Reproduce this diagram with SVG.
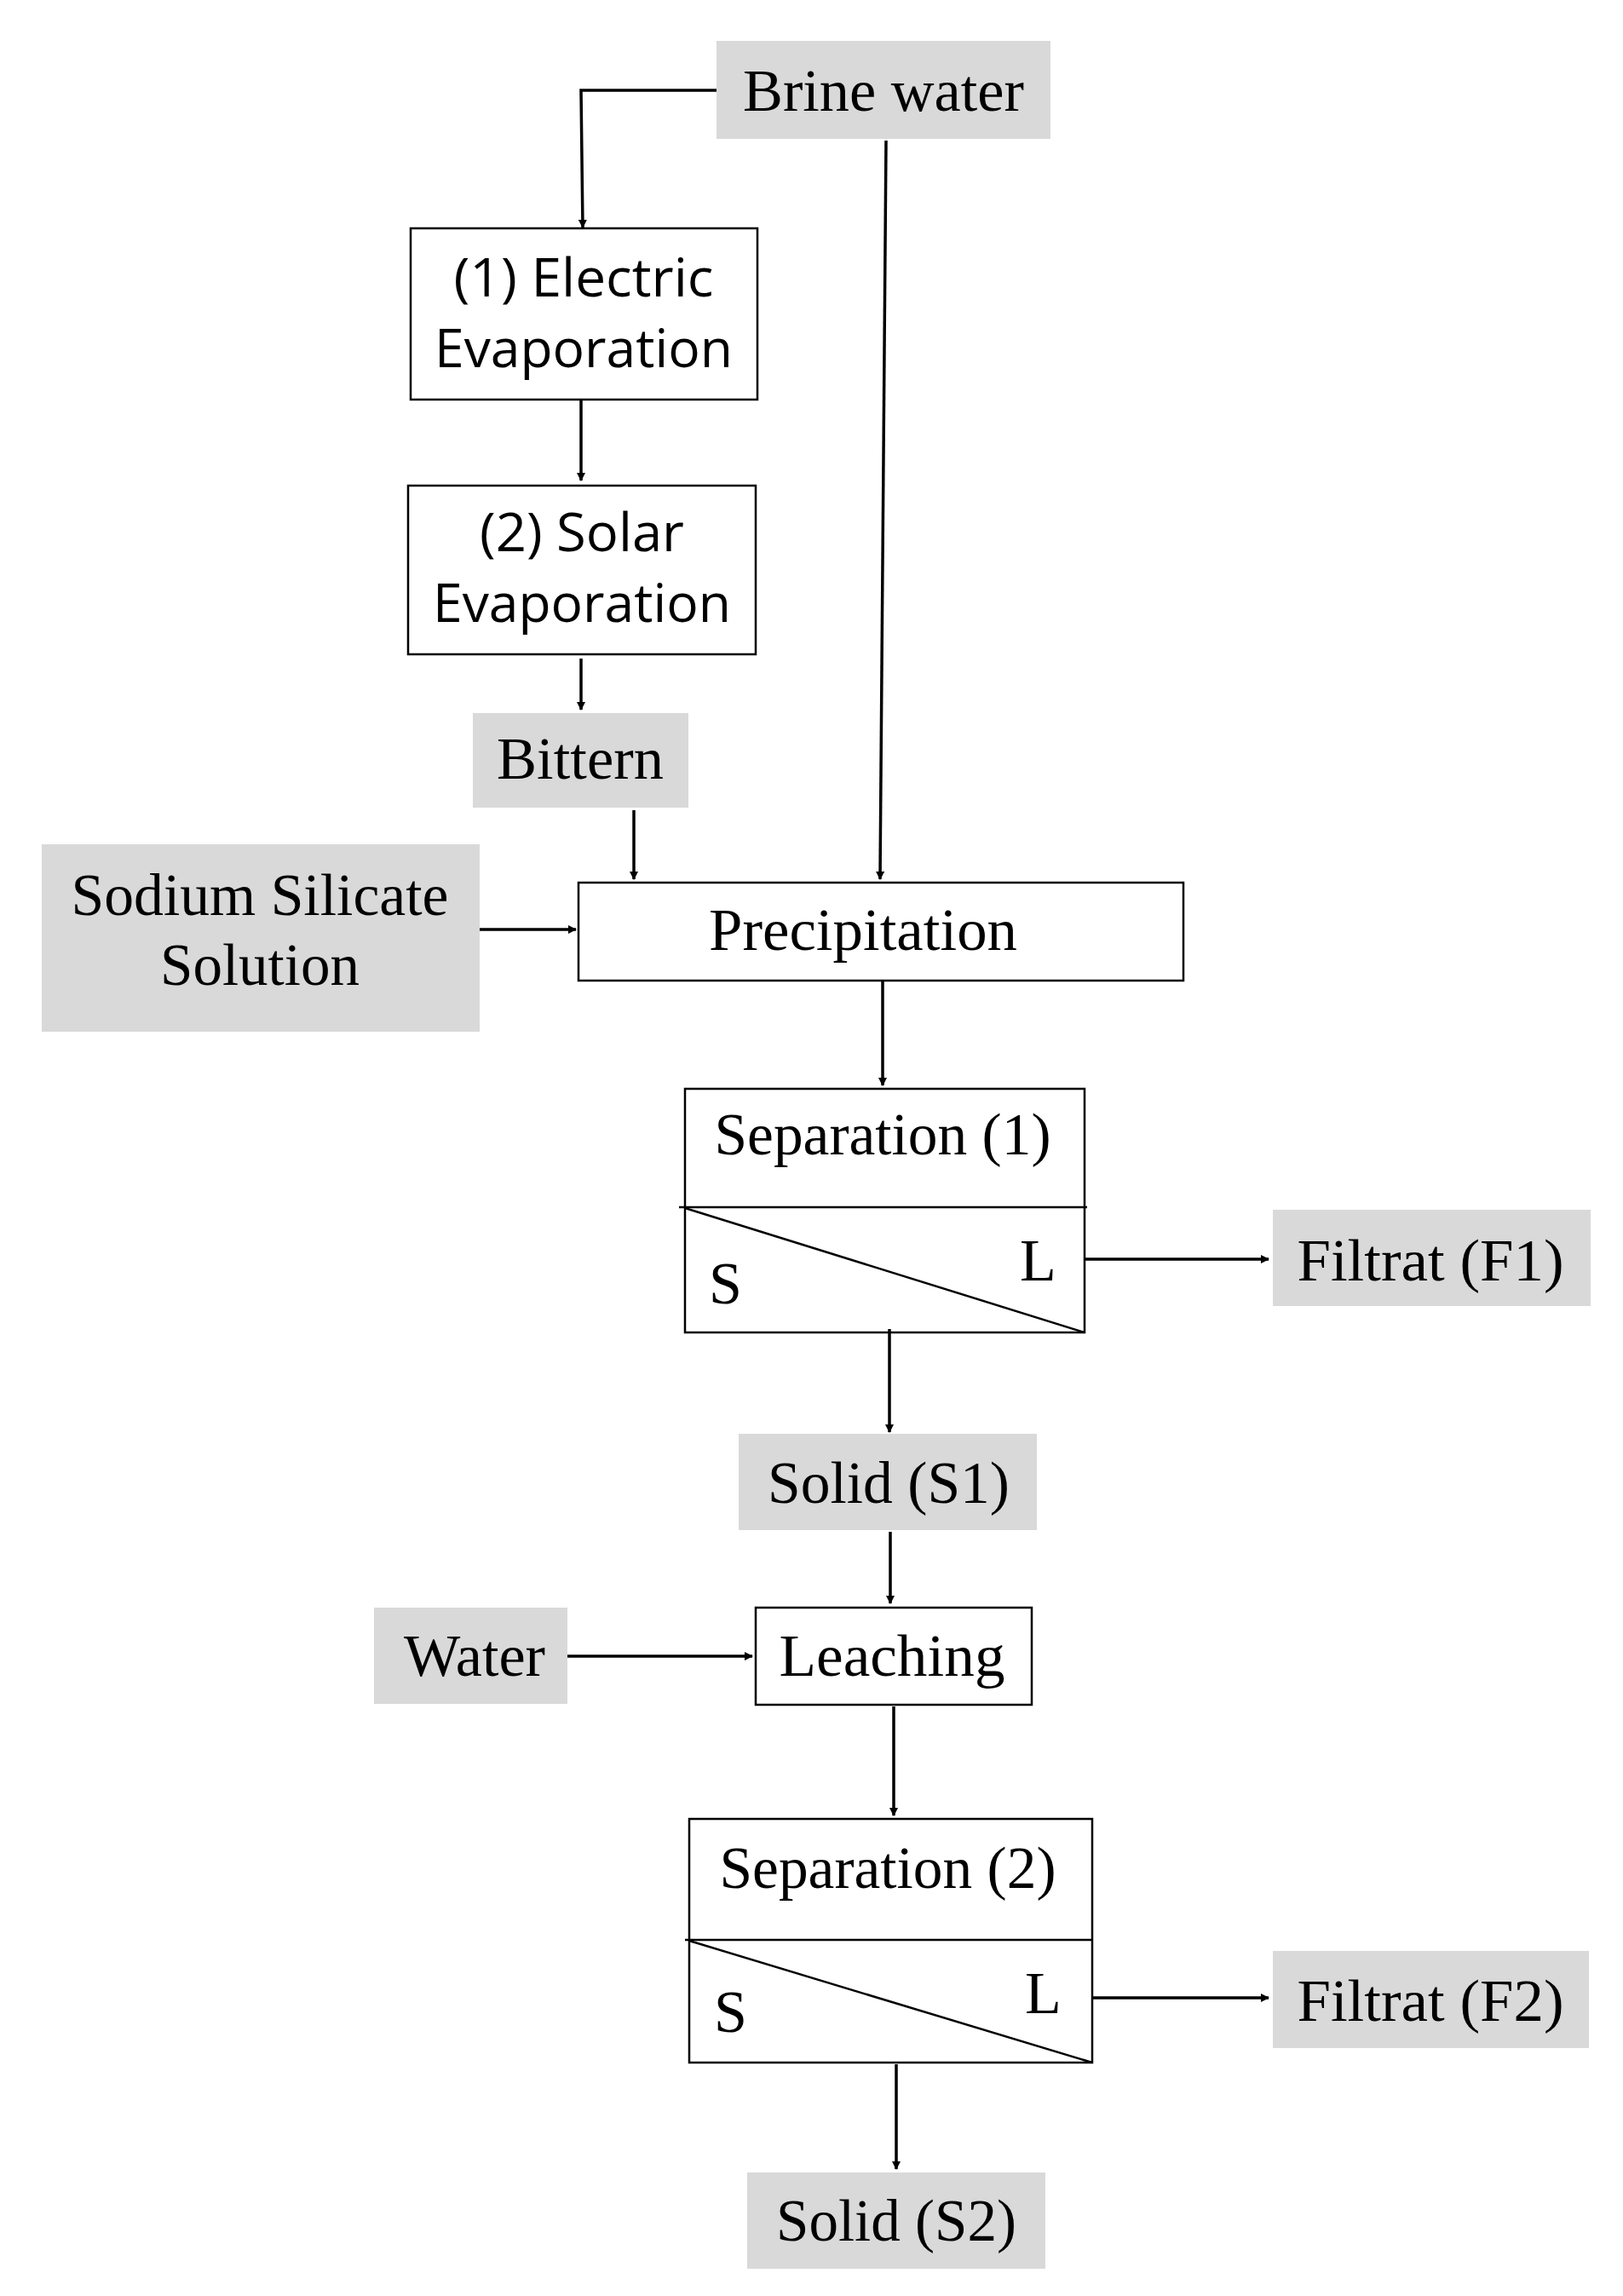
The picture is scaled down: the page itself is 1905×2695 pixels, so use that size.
<svg xmlns="http://www.w3.org/2000/svg" width="1905" height="2695" viewBox="0 0 1905 2695">
<defs>
<marker id="ah" markerWidth="10" markerHeight="10" refX="9" refY="5" orient="auto" markerUnits="userSpaceOnUse" viewBox="0 0 10 10">
<path d="M0,0 L10,5 L0,10 z" fill="#000"/>
</marker>
<style>
.g{fill:#d9d9d9;stroke:none}
.b{fill:#fff;stroke:#000;stroke-width:2.5}
.s{font-family:"Liberation Serif","Times New Roman",serif;font-size:70px;fill:#000}
.n{font-family:"Open Sans","DejaVu Sans",sans-serif;font-size:62px;fill:#000}
.c{stroke:#000;stroke-width:3.5;fill:none;marker-end:url(#ah)}
.l{stroke:#000;stroke-width:2.5;fill:none}
</style>
</defs>
<rect width="1905" height="2695" fill="#fff"/>
<g id="brine"><rect class="g" x="841" y="48" width="392" height="115"/><text class="s" x="1037" y="130" text-anchor="middle" textLength="330" lengthAdjust="spacingAndGlyphs">Brine water</text></g>
<g id="electric"><rect class="b" x="482" y="268" width="407" height="201"/><text class="n" x="685" y="348" text-anchor="middle" textLength="305" lengthAdjust="spacingAndGlyphs">(1) Electric</text><text class="n" x="685" y="431" text-anchor="middle" textLength="350" lengthAdjust="spacingAndGlyphs">Evaporation</text></g>
<g id="solar"><rect class="b" x="479" y="570" width="408" height="198"/><text class="n" x="683" y="647" text-anchor="middle" textLength="240" lengthAdjust="spacingAndGlyphs">(2) Solar</text><text class="n" x="683" y="730" text-anchor="middle" textLength="350" lengthAdjust="spacingAndGlyphs">Evaporation</text></g>
<g id="bittern"><rect class="g" x="555" y="837" width="253" height="111"/><text class="s" x="681" y="914" text-anchor="middle" textLength="196" lengthAdjust="spacingAndGlyphs">Bittern</text></g>
<g id="sodium"><rect class="g" x="49" y="991" width="514" height="220"/><text class="s" x="305" y="1074" text-anchor="middle" textLength="443" lengthAdjust="spacingAndGlyphs">Sodium  Silicate</text><text class="s" x="305" y="1156" text-anchor="middle" textLength="234" lengthAdjust="spacingAndGlyphs">Solution</text></g>
<g id="precipitation"><rect class="b" x="679" y="1036" width="710" height="115"/><text class="s" x="1013" y="1115" text-anchor="middle" textLength="362" lengthAdjust="spacingAndGlyphs">Precipitation</text></g>
<g id="sep1"><rect class="b" x="804" y="1278" width="469" height="286"/><line class="l" x1="797" y1="1417" x2="1276" y2="1417"/><line class="l" x1="804" y1="1418" x2="1273" y2="1564"/><text class="s" x="1036" y="1355" text-anchor="middle" textLength="395" lengthAdjust="spacingAndGlyphs">Separation (1)</text><text class="s" x="832" y="1530">S</text><text class="s" x="1197" y="1503">L</text></g>
<g id="f1"><rect class="g" x="1494" y="1420" width="373" height="113"/><text class="s" x="1679" y="1503" text-anchor="middle" textLength="313" lengthAdjust="spacingAndGlyphs">Filtrat (F1)</text></g>
<g id="s1"><rect class="g" x="867" y="1683" width="350" height="113"/><text class="s" x="1043" y="1764" text-anchor="middle" textLength="284" lengthAdjust="spacingAndGlyphs">Solid (S1)</text></g>
<g id="water"><rect class="g" x="439" y="1887" width="227" height="113"/><text class="s" x="557" y="1967" text-anchor="middle" textLength="166" lengthAdjust="spacingAndGlyphs">Water</text></g>
<g id="leaching"><rect class="b" x="887" y="1887" width="324" height="114"/><text class="s" x="1047" y="1967" text-anchor="middle" textLength="265" lengthAdjust="spacingAndGlyphs">Leaching</text></g>
<g id="sep2"><rect class="b" x="809" y="2135" width="473" height="286"/><line class="l" x1="804" y1="2277" x2="1282" y2="2277"/><line class="l" x1="809" y1="2278" x2="1282" y2="2421"/><text class="s" x="1042" y="2216" text-anchor="middle" textLength="395" lengthAdjust="spacingAndGlyphs">Separation (2)</text><text class="s" x="838" y="2385">S</text><text class="s" x="1203" y="2363">L</text></g>
<g id="f2"><rect class="g" x="1494" y="2290" width="371" height="114"/><text class="s" x="1679" y="2372" text-anchor="middle" textLength="313" lengthAdjust="spacingAndGlyphs">Filtrat (F2)</text></g>
<g id="s2"><rect class="g" x="877" y="2550" width="350" height="113"/><text class="s" x="1052" y="2630" text-anchor="middle" textLength="282" lengthAdjust="spacingAndGlyphs">Solid (S2)</text></g>
<g id="connectors">
<path class="c" d="M841,106 L682,106 L684,267"/>
<path class="c" d="M682,469 L682,564"/>
<path class="c" d="M682,773 L682,833"/>
<path class="c" d="M744,951 L744,1032"/>
<path class="c" d="M1040,165 L1033,1032"/>
<path class="c" d="M563,1091 L676,1091"/>
<path class="c" d="M1036,1152 L1036,1274"/>
<path class="c" d="M1273,1478 L1489,1478"/>
<path class="c" d="M1044,1560 L1044,1681"/>
<path class="c" d="M1045,1798 L1045,1882"/>
<path class="c" d="M666,1944 L883,1944"/>
<path class="c" d="M1049,2003 L1049,2131"/>
<path class="c" d="M1282,2345 L1489,2345"/>
<path class="c" d="M1052,2423 L1052,2546"/>
</g>
</svg>
